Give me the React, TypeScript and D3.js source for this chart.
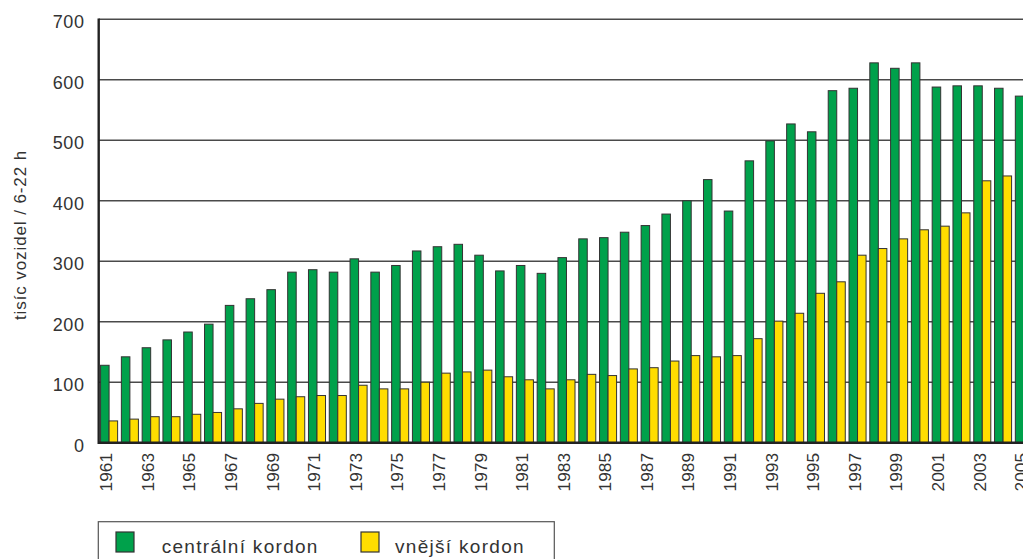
import React from "react";
import * as d3 from "d3";

const years = [
  1961, 1962, 1963, 1964, 1965, 1966, 1967, 1968, 1969, 1970, 1971, 1972,
  1973, 1974, 1975, 1976, 1977, 1978, 1979, 1980, 1981, 1982, 1983, 1984,
  1985, 1986, 1987, 1988, 1989, 1990, 1991, 1992, 1993, 1994, 1995, 1996,
  1997, 1998, 1999, 2000, 2001, 2002, 2003, 2004, 2005,
];
const central = [
  128, 142, 157, 170, 183, 196, 227, 238, 253, 282, 286, 282,
  304, 282, 293, 317, 324, 328, 310, 284, 293, 280, 306, 337,
  339, 348, 359, 378, 400, 435, 383, 466, 499, 527, 514, 582,
  586, 628, 619, 628, 588, 590, 590, 586, 573,
];
const outer = [
  36, 39, 43, 43, 47, 50, 56, 65, 72, 76, 78, 78,
  95, 89, 89, 100, 115, 117, 120, 109, 104, 89, 104, 113,
  111, 122, 124, 135, 144, 142, 144, 172, 201, 214, 247, 266,
  310, 321, 337, 352, 358, 380, 433, 441, 450,
];
const yTicks = [0, 100, 200, 300, 400, 500, 600, 700];
const xLabels = years.filter((y) => y % 2 === 1);
const seriesNames = ["centrální kordon", "vnější kordon"];
const seriesColors = ["#00A14B", "#FFDD00"];
const yTitle = "tisíc vozidel / 6-22 h";

const W = 1023;
const H = 559;
const left = 98.7;
const top = 19.3;
const bottom = 442.7;
const step = 20.79;
const font = "'Liberation Sans', Arial, Helvetica, sans-serif";
const textColor = "#333";

export default function App() {
  const x = d3
    .scaleBand<number>()
    .domain(years)
    .range([left, left + years.length * step])
    .paddingInner(0.18)
    .paddingOuter(0.09);
  const sub = d3
    .scaleBand<number>()
    .domain([0, 1])
    .range([0, x.bandwidth()]);
  const y = d3.scaleLinear().domain([0, 700]).range([bottom, top]);
  const series = [central, outer];
  const right = left + years.length * step;

  return (
    <div style={{ position: "fixed", left: 0, top: 0 }}>
      <svg width={W} height={H} style={{ display: "block", background: "#fff" }}>
        <defs>
          <clipPath id="clip">
            <rect x={0} y={0} width={W} height={H} />
          </clipPath>
        </defs>
        <g clipPath="url(#clip)">
          {/* gridlines */}
          {yTicks.map((t) => (
            <line
              key={"g" + t}
              x1={left}
              x2={right}
              y1={y(t)}
              y2={y(t)}
              stroke="#4a4a4a"
              strokeWidth={1.5}
            />
          ))}
          {/* bars */}
          {series.map((vals, si) =>
            years.map((yr, i) => (
              <rect
                key={si + "-" + yr}
                x={(x(yr) as number) + (sub(si) as number)}
                y={y(vals[i])}
                width={sub.bandwidth()}
                height={y(0) - y(vals[i])}
                fill={seriesColors[si]}
                stroke="#333"
                strokeWidth={1}
              />
            ))
          )}
          {/* axes */}
          <line x1={left} x2={right} y1={y(0)} y2={y(0)} stroke="#222" strokeWidth={2.6} />
          <line x1={left} x2={left} y1={y(700) - 0.7} y2={y(0) + 1.3} stroke="#222" strokeWidth={2.4} />
          {/* y tick labels */}
          {yTicks.map((t) => (
            <text
              key={"yt" + t}
              x={84.5}
              y={y(t) + 2.5}
              dy="0.35em"
              textAnchor="end"
              fontFamily={font}
              fontSize={18}
              letterSpacing={0.6}
              fill={textColor}
            >
              {t}
            </text>
          ))}
          {/* x tick labels */}
          {xLabels.map((yr) => {
            const cx = (x(yr) as number) + x.bandwidth() / 2 - 3;
            return (
              <text
                key={"xt" + yr}
                transform={`translate(${cx},453) rotate(-90)`}
                dy="0.36em"
                textAnchor="end"
                fontFamily={font}
                fontSize={17.3}
                fill={textColor}
              >
                {yr}
              </text>
            );
          })}
          {/* y title */}
          <text
            transform={`translate(20.5,235) rotate(-90)`}
            dy="0.35em"
            textAnchor="middle"
            fontFamily={font}
            fontSize={17}
            letterSpacing={0.9}
            fill={textColor}
          >
            {yTitle}
          </text>
          {/* legend */}
          <rect x={98.3} y={521.7} width={456} height={60} fill="none" stroke="#555" strokeWidth={1.2} />
          {seriesNames.map((name, i) => {
            const lx = i === 0 ? 116 : 361;
            const tx = i === 0 ? 161.7 : 395;
            return (
              <g key={"lg" + i}>
                <rect x={lx} y={532} width={18} height={20} fill={seriesColors[i]} stroke="#333" strokeWidth={1.2} />
                <text
                  x={tx}
                  y={552.5}
                  fontFamily={font}
                  fontSize={19}
                  letterSpacing={1.3}
                  fill={textColor}
                >
                  {name}
                </text>
              </g>
            );
          })}
        </g>
      </svg>
    </div>
  );
}
